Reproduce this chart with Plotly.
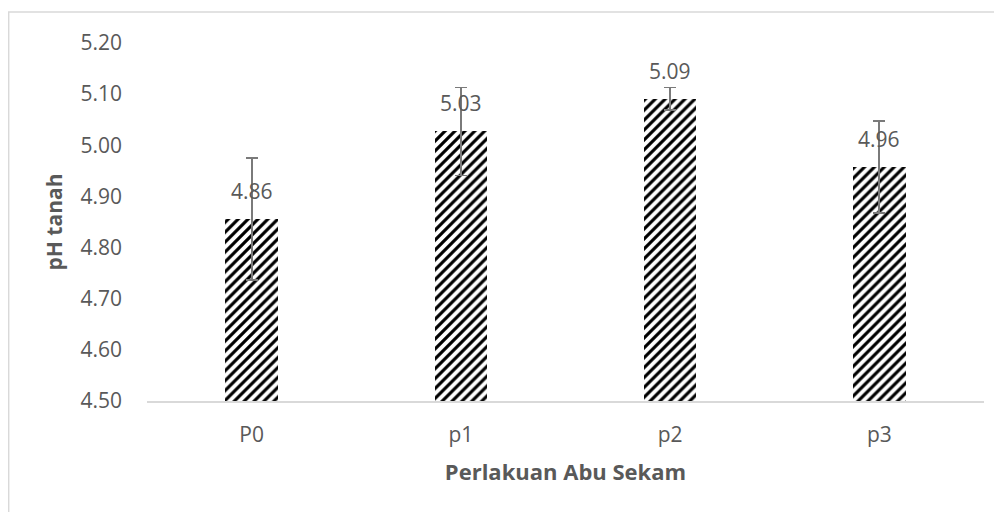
import plotly.graph_objects as go

categories = ["P0", "p1", "p2", "p3"]
ph_values = [4.856, 5.027, 5.091, 4.957]
ph_errors = [0.119, 0.086, 0.022, 0.090]
value_labels = ["4.86", "5.03", "5.09", "4.96"]
y_ticks = [4.50, 4.60, 4.70, 4.80, 4.90, 5.00, 5.10, 5.20]

FONT = "Open Sans"
GRAY = "#595959"

fig = go.Figure()
fig.add_trace(go.Bar(
    x=categories,
    y=ph_values,
    width=0.25,
    marker=dict(
        color="black",
        line=dict(width=0),
        pattern=dict(shape="/", fgcolor="black", bgcolor="white", fgopacity=1,
                     size=7, solidity=0.45, fillmode="replace"),
    ),
    error_y=dict(type="data", array=ph_errors, visible=True, color="#7a7a7a", thickness=1.8, width=6),
))

for c, v, t in zip(categories, ph_values, value_labels):
    fig.add_annotation(x=c, y=v, text=t, showarrow=False, yanchor="bottom", yshift=12,
                       font=dict(family=FONT, size=21, color=GRAY))

# page body has an 8px margin: figure origin is at (8, 8) in the window
OFF = 8
W, H = 1002, 512
L, T = 147 - OFF, 43 - OFF
R = W - (984 - OFF)
B = H - (401 - OFF)
pw, ph = W - L - R, H - T - B
fig.add_shape(type="rect", xref="paper", yref="paper",
              x0=(8 - OFF - L) / pw + 0.0008, x1=(1100 - L) / pw,
              y0=(H - B - 700) / ph, y1=1 + (T - (12 - OFF)) / ph,
              line=dict(color="#d9d9d9", width=1.5), fillcolor="rgba(0,0,0,0)", layer="below")

fig.update_layout(
    width=W, height=H,
    margin=dict(l=L, r=R, t=T, b=B, autoexpand=False),
    paper_bgcolor="white", plot_bgcolor="white",
    showlegend=False,
    bargap=0,
    font=dict(family=FONT, size=21, color=GRAY),
    xaxis=dict(
        showline=True, linecolor="#d9d9d9", linewidth=1.5,
        ticks="", ticklabelstandoff=14,
        tickfont=dict(family=FONT, size=21, color=GRAY),
        title=dict(text="<b>Perlakuan Abu Sekam</b>", standoff=18,
                   font=dict(family=FONT, size=22, color=GRAY)),
        automargin=False,
    ),
    yaxis=dict(
        range=[4.5, 5.2], tickvals=y_ticks, ticktext=[f"{v:.2f}" for v in y_ticks],
        showgrid=False, zeroline=False, showline=False, ticks="", ticklabelstandoff=24,
        tickfont=dict(family=FONT, size=21, color=GRAY),
        title=dict(text="<b>pH tanah</b>", standoff=12,
                   font=dict(family=FONT, size=21, color=GRAY)),
        automargin=False,
    ),
)

fig.write_html("out.html")
